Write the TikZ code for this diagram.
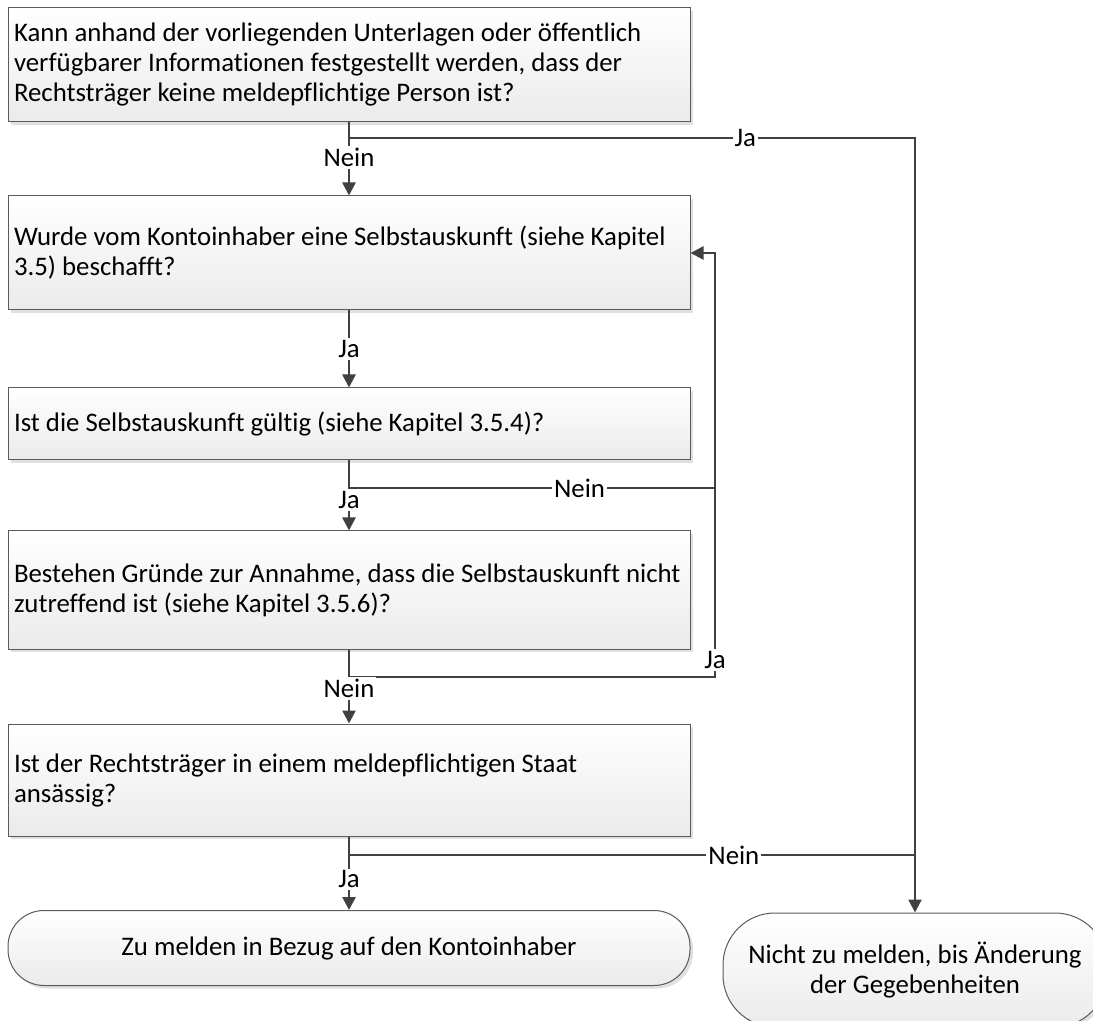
\documentclass[tikz,border=0pt]{standalone}
\usepackage{fontspec}
\setmainfont{Carlito}[Ligatures=NoCommon]
\usetikzlibrary{arrows.meta,shadows}
\definecolor{linie}{HTML}{404040}
\definecolor{rahmen}{HTML}{5A5A5A}

\begin{document}
\begin{tikzpicture}[x=0.5pt,y=-0.5pt]
\tikzset{frage/.style={rectangle,draw=rahmen,line width=0.5pt,minimum width=341pt,inner xsep=3pt,text width=335pt,align=flush left,top color=white,bottom color=black!8,drop shadow={shadow xshift=1.5pt,shadow yshift=-1.5pt,fill=black!12,opacity=1},font=\fontsize{13.4}{15}\selectfont},
ende/.style={rectangle,draw=rahmen,line width=0.5pt,align=center,top color=white,bottom color=black!8,drop shadow={shadow xshift=1.5pt,shadow yshift=-1.5pt,fill=black!12,opacity=1},font=\fontsize{13.4}{15}\selectfont},
marke/.style={fill=white,inner sep=1pt,font=\fontsize{13.4}{15}\selectfont},
verbindung/.style={draw=linie,line width=1.3pt},
pfeil/.style={verbindung,-{Triangle[width=6.5pt,length=6.5pt]}}}

\useasboundingbox (0,0) rectangle (1093,1021);

  \draw (349,65) node[frage,minimum height=57pt](q1) {Kann anhand der vorliegenden Unterlagen oder öffentlich\\verfügbarer Informationen festgestellt werden, dass der\\Rechtsträger keine meldepflichtige Person ist?};
  \draw (349,253) node[frage,minimum height=57pt](q2) {Wurde vom Kontoinhaber eine Selbstauskunft (siehe Kapitel\\3.5) beschafft?};
  \draw (349,424) node[frage,minimum height=36pt](q3) {Ist die Selbstauskunft gültig (siehe Kapitel 3.5.4)?};
  \draw (349,590) node[frage,minimum height=59pt](q4) {Bestehen Gründe zur Annahme, dass die Selbstauskunft nicht\\zutreffend ist (siehe Kapitel 3.5.6)?};
  \draw (349,780) node[frage,minimum height=56pt](q5) {Ist der Rechtsträger in einem meldepflichtigen Staat\\ansässig?};
  \draw (349,948) node[ende,rounded corners=18pt,minimum width=341pt,minimum height=37.5pt](t1) {Zu melden in Bezug auf den Kontoinhaber};
  \draw (915,970) node[ende,rounded corners=26pt,minimum width=192pt,minimum height=57pt](t2) {Nicht zu melden, bis Änderung\\der Gegebenheiten};

  \coordinate (j1) at (349,138);
  \coordinate (j3) at (349,488);
  \coordinate (r3) at (715,488);
  \coordinate (j4) at (349,677);
  \coordinate (j5) at (349,855);

	\draw[pfeil] (q1.south) -- (j1) -- node[marke,pos=.7]{Ja} (j1 -| t2.north) -- (t2.north);
	\draw[pfeil] (j1) -- node[marke,pos=.34]{Nein} (q2.north);

	\draw[pfeil] (q2.south) -- node[marke]{Ja} (q3.north);

	\draw[verbindung] (q3.south) -- (j3) -- node[marke,pos=.63]{Nein} (r3);
	\draw[pfeil] (j3) -- node[marke,pos=.28]{Ja} (q4.north);

	\draw[pfeil] (q4.south) -- (j4) -- (j4 -| r3) -- node[marke,pos=.04]{Ja} (q2.east -| r3) -- (q2.east);
	\draw[pfeil] (j4) -- node[marke,pos=.25]{Nein} (q5.north);

	\draw[verbindung] (q5.south) -- (j5) -- node[marke,pos=.68]{Nein} (j5 -| t2.north);
	\draw[pfeil] (j5) -- node[marke,pos=.44]{Ja} (t1.north);
\end{tikzpicture}
\end{document}
